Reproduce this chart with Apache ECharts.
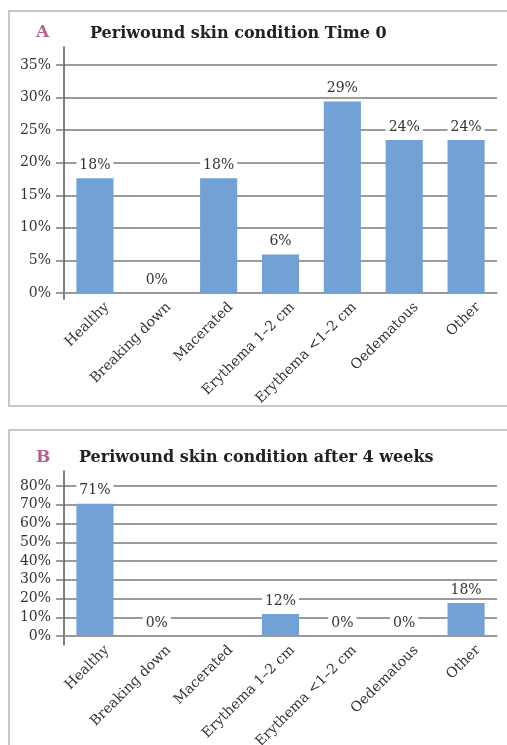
<!DOCTYPE html>
<html>
<head>
<meta charset="utf-8">
<script src="https://cdn.jsdelivr.net/npm/echarts@6/dist/echarts.min.js"></script>
<style>
  html, body { margin: 0; padding: 0; background: #fff; }
  #chart { width: 507px; height: 745px; }
</style>
</head>
<body>
<div id="chart"></div>
<script>
// periwound skin condition, % of patients
const categories = ["Healthy", "Breaking down", "Macerated", "Erythema 1\u20132 cm", "Erythema <1\u20132 cm", "Oedematous", "Other"];
const time0 = [17.6, 0, 17.6, 5.9, 29.4, 23.5, 23.5];
const week4 = [70.6, 0, "-", 11.8, 0, 0, 17.6];
const yMaxA = 35, yStepA = 5;
const yMaxB = 80, yStepB = 10;

const serif = "DejaVu Serif";
const ink = "#333";
const lineCol = "#7a7a7a";
const barCol = "#72a1d5";
const letterCol = "#b5618f";

let myChart = echarts.init(document.getElementById("chart"), null, { renderer: "canvas" });

function xCat(grid) {
  return {
    type: "category", gridIndex: grid, data: categories,
    axisLine: { lineStyle: { color: "#999", width: 1.5 } },
    axisTick: { show: false },
    axisLabel: {
      rotate: 45, margin: 24, interval: 0, color: ink,
      fontFamily: serif, fontSize: 14, padding: [0, -17, 0, 0]
    }
  };
}
function yVal(grid, max, step) {
  return {
    type: "value", gridIndex: grid, min: 0, max: max, interval: step,
    axisLine: { show: false },
    axisTick: { show: true, length: 8, lineStyle: { color: lineCol, width: 1.5 } },
    axisLabel: { formatter: "{value}%", color: ink, fontFamily: serif, fontSize: 14, margin: 13 },
    splitLine: { lineStyle: { color: lineCol, width: 1.5 } }
  };
}
// bare axis line that runs a bit past the plot, like the source figure
function xBare(grid) {
  return { type: "value", gridIndex: grid, show: false };
}
function yBare(grid) {
  return {
    type: "value", gridIndex: grid, min: 0, max: 1,
    axisLine: { show: true, lineStyle: { color: "#555", width: 1.5 } },
    axisTick: { show: false }, axisLabel: { show: false }, splitLine: { show: false }
  };
}
function bars(name, data, grid) {
  return {
    name: name, type: "bar", xAxisIndex: grid, yAxisIndex: grid, data: data,
    barCategoryGap: "40%",
    itemStyle: { color: barCol },
    label: {
      show: true, position: "top", distance: 5, color: ink,
      fontFamily: serif, fontSize: 14, backgroundColor: "#fff", padding: [1, 3],
      formatter: p => Math.round(p.value) + "%"
    }
  };
}

let option = {
  backgroundColor: "#fff",
  animation: false,
  graphic: [
    { type: "rect", shape: { x: 9, y: 11, width: 520, height: 395 }, style: { fill: "none", stroke: "#c8c8c8", lineWidth: 2 } },
    { type: "rect", shape: { x: 9, y: 430, width: 520, height: 400 }, style: { fill: "none", stroke: "#c8c8c8", lineWidth: 2 } }
  ],
  title: [
    { text: "A", left: 31, top: 19, textStyle: { color: letterCol, fontFamily: serif, fontSize: 17, fontWeight: "bold" } },
    { text: "Periwound skin condition Time 0", left: 85, top: 21, textStyle: { color: "#222", fontFamily: serif, fontSize: 16, fontWeight: "bold" } },
    { text: "B", left: 31, top: 444, textStyle: { color: letterCol, fontFamily: serif, fontSize: 17, fontWeight: "bold" } },
    { text: "Periwound skin condition after 4 weeks", left: 74, top: 445, textStyle: { color: "#222", fontFamily: serif, fontSize: 16, fontWeight: "bold" } }
  ],
  grid: [
    { left: 64, right: 10, top: 65, height: 228, outerBoundsMode: "none" },
    { left: 64, width: 10, top: 47, height: 252, outerBoundsMode: "none" },
    { left: 64, right: 10, top: 486, height: 150, outerBoundsMode: "none" },
    { left: 64, width: 10, top: 471, height: 174, outerBoundsMode: "none" }
  ],
  xAxis: [xCat(0), xBare(1), xCat(2), xBare(3)],
  yAxis: [yVal(0, yMaxA, yStepA), yBare(1), yVal(2, yMaxB, yStepB), yBare(3)],
  series: [
    bars("Time 0", time0, 0),
    bars("After 4 weeks", week4, 2)
  ]
};
myChart.setOption(option);
</script>
</body>
</html>
